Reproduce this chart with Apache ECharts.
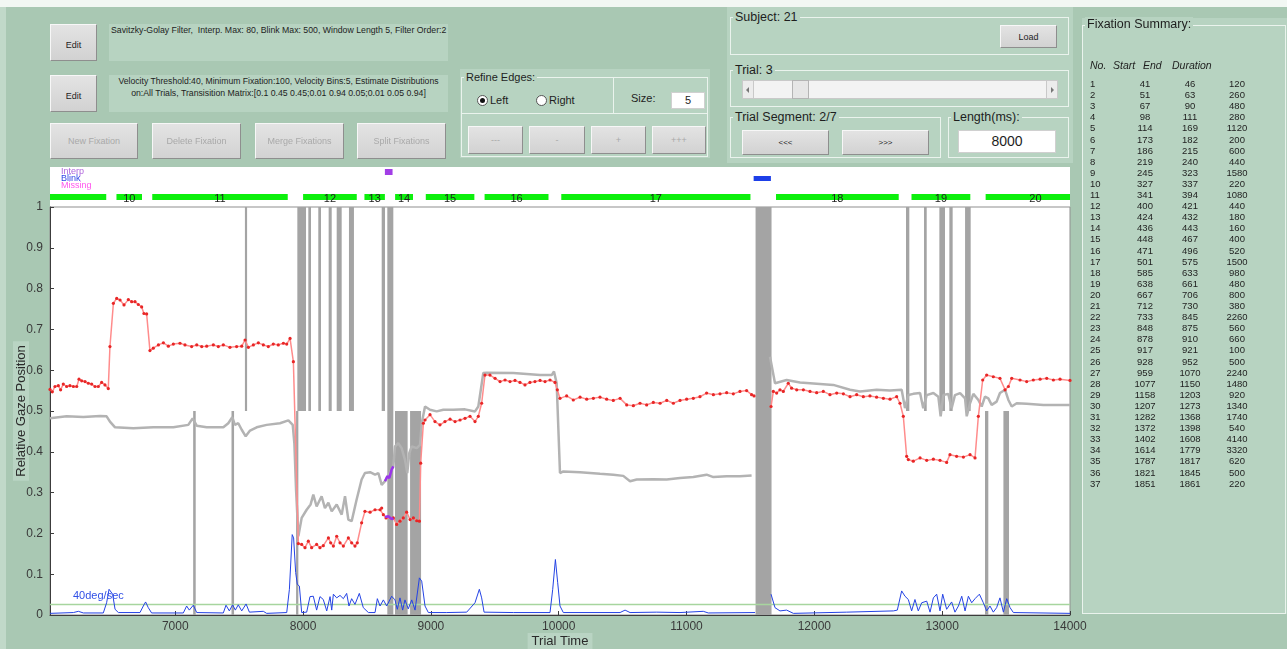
<!DOCTYPE html>
<html>
<head>
<meta charset="utf-8">
<title>Fixation editor</title>
<script src="https://cdn.jsdelivr.net/npm/echarts@6.0.0/dist/echarts.min.js"></script>
<style>
html,body{margin:0;padding:0}
body{width:1287px;height:649px;background:#a9c8b3;position:relative;overflow:hidden;font-family:"Liberation Sans",Arial,sans-serif;color:#1e1e1e}
#chart{position:absolute;left:0;top:0;width:1287px;height:649px}
.a{position:absolute;box-sizing:border-box;white-space:nowrap}
.btn{background:linear-gradient(#e3e3e3,#d2d2d2);border:1px solid;border-color:#f7f7f7 #8e8e8e #8e8e8e #f7f7f7;font-size:9px;display:flex;align-items:center;justify-content:center;color:#1e1e1e}
.off{color:#a9a9a9}
.fill{background:#b7d3c1}
.frame{border:1px solid #eaf3ed}
.ttl{background:#b7d3c1;padding:0 2px;line-height:14px;color:#1e1e1e}
.radio{width:11px;height:11px;border-radius:50%;border:1px solid #555;background:#fff}
.dot{position:absolute;left:2px;top:2px;width:5px;height:5px;border-radius:50%;background:#111}
.hdr{font-style:italic;font-size:10.5px;color:#1e1e1e}
.row{font-size:9.5px;color:#1e1e1e;line-height:11px}
</style>
</head>
<body>
<div id="chart"></div>

<div class="a" style="left:0;top:0;width:1287px;height:7px;background:#f2f7f3"></div>
<div class="a" style="left:0;top:7px;width:6px;height:642px;background:#c1d9c9"></div>

<!-- filter settings -->
<div class="a btn" style="left:50px;top:24px;width:47px;height:37px;padding-top:5px">Edit</div>
<div class="a fill" style="left:109px;top:24px;width:339px;height:37px"></div>
<div class="a" data-w="336" style="left:111px;top:25px;font-size:9px;line-height:11px"><span>Savitzky-Golay Filter,&nbsp; Interp. Max: 80, Blink Max: 500, Window Length 5, Filter Order:2</span></div>

<!-- classifier settings -->
<div class="a btn" style="left:50px;top:75px;width:47px;height:37px;padding-top:5px">Edit</div>
<div class="a fill" style="left:109px;top:75px;width:339px;height:37px"></div>
<div class="a" data-w="320" style="left:109px;width:339px;top:76px;text-align:center;font-size:9px;line-height:11px"><span>Velocity Threshold:40, Minimum Fixation:100, Velocity Bins:5, Estimate Distributions</span></div>
<div class="a" data-w="295" style="left:109px;width:339px;top:88px;text-align:center;font-size:9px;line-height:11px"><span>on:All Trials, Transisition Matrix:[0.1 0.45 0.45;0.01 0.94 0.05;0.01 0.05 0.94]</span></div>

<div class="a btn off" style="left:50px;top:123px;width:88px;height:36px">New Fixation</div>
<div class="a btn off" style="left:152px;top:123px;width:89px;height:36px">Delete Fixation</div>
<div class="a btn off" style="left:255px;top:123px;width:89px;height:36px">Merge Fixations</div>
<div class="a btn off" style="left:357px;top:123px;width:89px;height:36px">Split Fixations</div>

<!-- refine edges -->
<div class="a fill" style="left:460px;top:69px;width:250px;height:89px"></div>
<div class="a frame" style="left:461px;top:77px;width:153px;height:37px"></div>
<div class="a frame" style="left:613px;top:77px;width:95px;height:37px"></div>
<div class="a frame" style="left:461px;top:113px;width:247px;height:44px"></div>
<div class="a ttl" style="left:464px;top:70px;font-size:11px">Refine Edges:</div>
<div class="a radio" style="left:477px;top:95px"><div class="dot"></div></div>
<div class="a" style="left:490px;top:94px;font-size:11px;line-height:13px">Left</div>
<div class="a radio" style="left:536px;top:95px"></div>
<div class="a" style="left:549px;top:94px;font-size:11px;line-height:13px">Right</div>
<div class="a" style="left:631px;top:92px;font-size:11px;line-height:13px">Size:</div>
<div class="a" style="left:671px;top:92px;width:34px;height:17px;background:#fff;border:1px solid #d0d0d0;font-size:11px;line-height:15px;text-align:center">5</div>
<div class="a btn off" style="left:468px;top:126px;width:55px;height:28px">---</div>
<div class="a btn off" style="left:529px;top:126px;width:56px;height:28px">-</div>
<div class="a btn off" style="left:591px;top:126px;width:55px;height:28px">+</div>
<div class="a btn off" style="left:652px;top:126px;width:54px;height:28px">+++</div>

<!-- subject / trial navigation -->
<div class="a fill" style="left:727px;top:7px;width:346px;height:156px"></div>
<div class="a frame" style="left:730px;top:17px;width:339px;height:38px"></div>
<div class="a ttl" style="left:733px;top:10px;font-size:12.5px">Subject: 21</div>
<div class="a btn" style="left:1000px;top:25px;width:57px;height:23px">Load</div>
<div class="a frame" style="left:730px;top:70px;width:339px;height:37px"></div>
<div class="a ttl" style="left:733px;top:63px;font-size:12.5px">Trial: 3</div>
<div class="a" style="left:742px;top:80px;width:316px;height:19px;background:#f3f3f3;border:1px solid #c9c9c9"></div>
<div class="a" style="left:742px;top:80px;width:12px;height:19px;background:#ececec;border:1px solid #c9c9c9"></div>
<div class="a" style="left:746px;top:87px;width:0;height:0;border-top:3px solid transparent;border-bottom:3px solid transparent;border-right:3px solid #777"></div>
<div class="a" style="left:1046px;top:80px;width:12px;height:19px;background:#ececec;border:1px solid #c9c9c9"></div>
<div class="a" style="left:1051px;top:87px;width:0;height:0;border-top:3px solid transparent;border-bottom:3px solid transparent;border-left:3px solid #777"></div>
<div class="a" style="left:792px;top:80px;width:17px;height:19px;background:#e6e6e6;border:1px solid #b4b4b4"></div>
<div class="a frame" style="left:730px;top:117px;width:211px;height:41px"></div>
<div class="a ttl" style="left:733px;top:110px;font-size:12.5px">Trial Segment: 2/7</div>
<div class="a btn" style="left:742px;top:130px;width:87px;height:25px;font-size:8px">&lt;&lt;&lt;</div>
<div class="a btn" style="left:842px;top:130px;width:87px;height:25px;font-size:8px">&gt;&gt;&gt;</div>
<div class="a frame" style="left:948px;top:117px;width:121px;height:41px"></div>
<div class="a ttl" style="left:951px;top:110px;font-size:12.5px">Length(ms):</div>
<div class="a" style="left:958px;top:130px;width:98px;height:23px;background:#fff;border:1px solid #d0d0d0;font-size:14px;line-height:21px;text-align:center">8000</div>

<!-- fixation summary -->
<div class="a fill" style="left:1082px;top:18px;width:205px;height:596px"></div>
<div class="a frame" style="left:1082px;top:25px;width:204px;height:589px"></div>
<div class="a ttl" style="left:1085px;top:17px;font-size:12.5px">Fixation Summary:</div>
<div class="a hdr" style="left:1090px;top:59px">No.</div>
<div class="a hdr" style="left:1113px;top:59px">Start</div>
<div class="a hdr" style="left:1143px;top:59px">End</div>
<div class="a hdr" style="left:1172px;top:59px">Duration</div>
<div id="rows"></div>

<script>
// ---- fixation table (sample indices, 20 ms per sample) ----
const fixStart = [41,51,67,98,114,173,186,219,245,327,341,400,424,436,448,471,501,585,638,667,712,733,848,878,917,928,959,1077,1158,1207,1282,1372,1402,1614,1787,1821,1851];
const fixEnd   = [46,63,90,111,169,182,215,240,323,337,394,421,432,443,467,496,575,633,661,706,730,845,875,910,921,952,1070,1150,1203,1273,1368,1398,1608,1779,1817,1845,1861];
const fixDur   = [120,260,480,280,1120,200,600,440,1580,220,1080,440,180,160,400,520,1500,980,480,800,380,2260,560,660,100,500,2240,1480,920,1340,1740,540,4140,3320,620,500,220];
const SAMPLE_MS = 20;

// ---- trial segment window (ms) and tick labels ----
const X_MIN = 6020, X_MAX = 14000;
const xTickValues = [7000, 8000, 9000, 10000, 11000, 12000, 13000, 14000];

// ---- horizontal gaze position (points and smoothed trace), before/after the blink ----
const gazePre = [[6020,.553],[6038,.547],[6059,.560],[6085,.562],[6103,.552],[6124,.566],[6150,.560],[6176,.562],[6203,.560],[6229,.560],[6247,.578],[6268,.574],[6294,.572],[6320,.568],[6346,.566],[6372,.560],[6398,.560],[6424,.570],[6450,.564],[6476,.555],[6489,.658],[6516,.764],[6542,.776],[6568,.772],[6599,.760],[6633,.773],[6659,.768],[6685,.768],[6711,.761],[6737,.755],[6755,.739],[6776,.738],[6802,.648],[6828,.654],[6868,.662],[6907,.667],[6946,.659],[6985,.664],[7037,.666],[7076,.662],[7128,.658],[7168,.662],[7207,.658],[7246,.659],[7298,.662],[7337,.658],[7376,.662],[7428,.656],[7480,.658],[7520,.659],[7546,.674],[7572,.656],[7611,.662],[7650,.667],[7689,.662],[7728,.658],[7767,.664],[7806,.662],[7846,.666],[7872,.664],[7898,.678],[7924,.621],[7963,.175],[7989,.173],[8015,.165],[8041,.181],[8067,.165],[8106,.173],[8132,.165],[8158,.170],[8198,.189],[8216,.177],[8237,.169],[8263,.193],[8289,.177],[8315,.169],[8354,.189],[8380,.177],[8406,.169],[8424,.177],[8458,.226],[8484,.254],[8524,.252],[8563,.258],[8602,.258],[8615,.262],[8628,.246],[8649,.238],[8706,.238],[8732,.222],[8758,.230],[8784,.238],[8810,.252],[8837,.234],[8863,.238],[8889,.231],[8910,.230],[8920,.372],[8941,.470],[8954,.478],[8993,.491],[9032,.474],[9071,.466],[9110,.474],[9150,.480],[9189,.474],[9228,.478],[9267,.482],[9306,.487],[9345,.474],[9371,.487],[9397,.519],[9423,.588],[9462,.588],[9502,.580],[9541,.572],[9580,.576],[9619,.572],[9658,.575],[9697,.570],[9736,.564],[9775,.570],[9814,.572],[9854,.575],[9893,.572],[9932,.576],[9971,.570],[9989,.552],[10010,.531],[10062,.537],[10114,.527],[10167,.534],[10219,.529],[10271,.531],[10323,.534],[10375,.529],[10427,.526],[10480,.531],[10532,.515],[10584,.513],[10636,.519],[10688,.515],[10740,.521],[10793,.519],[10845,.526],[10897,.519],[10949,.526],[11001,.529],[11053,.531],[11105,.535],[11157,.544],[11210,.540],[11262,.542],[11314,.545],[11366,.542],[11418,.548],[11470,.550],[11509,.540],[11528,.537]];
const gazePost = [[11661,.511],[11679,.548],[11705,.544],[11731,.552],[11757,.548],[11796,.568],[11822,.556],[11862,.552],[11914,.552],[11966,.548],[12018,.545],[12070,.548],[12122,.540],[12175,.544],[12227,.542],[12279,.535],[12331,.540],[12383,.535],[12435,.537],[12487,.534],[12540,.531],[12592,.529],[12644,.535],[12670,.519],[12696,.487],[12722,.389],[12735,.381],[12774,.377],[12827,.385],[12879,.379],[12931,.382],[12983,.379],[13035,.374],[13061,.393],[13113,.389],[13166,.387],[13218,.393],[13257,.385],[13283,.487],[13317,.576],[13348,.588],[13400,.584],[13452,.580],[13492,.552],[13518,.560],[13544,.580],[13609,.576],[13661,.572],[13713,.576],[13766,.578],[13818,.580],[13870,.576],[13922,.578],[14000,.575]];

// ---- vertical gaze position ----
const vertPre = [[6020,.482],[6150,.487],[6281,.485],[6411,.488],[6463,.487],[6489,.474],[6529,.460],[6672,.458],[6828,.460],[6985,.460],[7102,.466],[7136,.482],[7168,.464],[7246,.460],[7376,.460],[7415,.470],[7446,.485],[7467,.466],[7493,.470],[7520,.454],[7551,.438],[7585,.452],[7637,.460],[7715,.466],[7819,.470],[7885,.477],[7919,.466],[7932,.420],[7945,.307],[7963,.193],[7989,.238],[8028,.258],[8059,.271],[8080,.295],[8106,.266],[8145,.291],[8171,.262],[8198,.275],[8224,.254],[8263,.271],[8302,.246],[8328,.291],[8354,.234],[8380,.230],[8419,.283],[8458,.332],[8484,.348],[8524,.350],[8563,.344],[8589,.348],[8615,.319],[8641,.328],[8706,.364],[8719,.413],[8745,.421],[8771,.409],[8797,.381],[8815,.348],[8831,.397],[8850,.413],[8889,.409],[8915,.417],[8928,.470],[8954,.511],[8993,.503],[9045,.499],[9097,.503],[9176,.503],[9267,.504],[9345,.499],[9371,.511],[9410,.593],[9436,.594],[9645,.593],[9854,.588],[9945,.588],[9963,.597],[9984,.568],[10010,.348],[10036,.352],[10167,.350],[10323,.346],[10427,.344],[10505,.341],[10558,.328],[10610,.332],[10740,.333],[10845,.332],[10949,.336],[11053,.338],[11157,.344],[11210,.338],[11314,.340],[11418,.340],[11509,.342]];
const vertPost = [[11653,.633],[11692,.568],[11783,.576],[11888,.570],[12018,.567],[12148,.564],[12279,.552],[12357,.548],[12487,.552],[12592,.550],[12683,.552],[12709,.507],[12735,.539],[12774,.542],[12827,.544],[12852,.507],[12879,.539],[12931,.544],[12970,.535],[12988,.487],[13009,.539],[13048,.542],[13074,.507],[13100,.539],[13140,.544],[13179,.531],[13192,.487],[13218,.519],[13244,.542],[13283,.527],[13309,.511],[13335,.535],[13361,.531],[13387,.515],[13426,.523],[13452,.544],[13492,.552],[13518,.527],[13544,.511],[13583,.519],[13661,.518],[13792,.515],[14000,.515]];

// ---- interpolated stretches ----
const interpVert = [[8641,.328],[8659,.340],[8675,.336],[8693,.357],[8706,.364]];
const interpGaze = [[8641,.240],[8667,.242],[8693,.235],[8706,.238]];

// ---- scaled velocity and its threshold (40 deg/sec) ----
const velPre = [[6020,.004],[6203,.006],[6242,.009],[6281,.005],[6437,.005],[6463,.030],[6482,.063],[6495,.067],[6510,.051],[6529,.014],[6555,.006],[6724,.006],[6750,.022],[6768,.032],[6789,.018],[6815,.005],[7063,.005],[7089,.022],[7110,.012],[7141,.024],[7168,.006],[7376,.005],[7397,.024],[7423,.010],[7449,.025],[7470,.012],[7493,.025],[7520,.010],[7554,.027],[7580,.007],[7689,.009],[7715,.004],[7872,.006],[7893,.063],[7915,.197],[7926,.189],[7942,.104],[7955,.075],[7971,.071],[7989,.006],[8028,.007],[8054,.045],[8080,.046],[8106,.012],[8132,.045],[8158,.038],[8185,.010],[8211,.045],[8224,.012],[8237,.051],[8263,.042],[8289,.048],[8315,.040],[8341,.053],[8359,.022],[8380,.040],[8406,.026],[8440,.053],[8471,.018],[8511,.006],[8563,.006],[8581,.040],[8602,.022],[8628,.037],[8654,.022],[8693,.046],[8719,.037],[8737,.014],[8758,.042],[8779,.012],[8797,.037],[8823,.015],[8850,.037],[8876,.012],[8910,.091],[8928,.083],[8954,.022],[8980,.006],[9124,.006],[9280,.007],[9345,.030],[9379,.063],[9397,.042],[9416,.007],[9645,.006],[9932,.006],[9953,.063],[9974,.136],[9992,.079],[10010,.022],[10036,.006],[10480,.006],[10519,.012],[10558,.006],[10767,.007],[10949,.006],[11131,.009],[11170,.005],[11536,.006]];
const velPost = [[11661,.051],[11692,.018],[11731,.010],[11783,.012],[11836,.004],[12253,.007],[12618,.010],[12649,.012],[12683,.059],[12709,.046],[12735,.038],[12761,.010],[12787,.038],[12813,.010],[12840,.030],[12879,.034],[12905,.007],[12931,.042],[12957,.051],[12983,.010],[13004,.051],[13035,.014],[13074,.032],[13100,.007],[13127,.022],[13153,.046],[13179,.010],[13205,.046],[13231,.030],[13257,.040],[13291,.051],[13322,.030],[13348,.010],[13374,.022],[13400,.007],[13426,.018],[13452,.042],[13479,.007],[13505,.040],[13531,.018],[13557,.006],[14000,.004]];
const velThreshold = 0.026;

// ---- missing-data spans [start, end] (ms): upper half, lower half, full height ----
const missUpper = [[7545,7562],[7955,8023],[8041,8062],[8119,8140],[8200,8224],[8263,8302],[8359,8398],[8615,8641],[12717,12743],[12858,12879],[12978,13022],[13056,13082],[13179,13223]];
const missLower = [[7140,7160],[7440,7460],[7945,7963],[8719,8818],[8837,8923],[13335,13361],[13479,13523]];
const missFull  = [[8659,8706],[11540,11665]];

// ---- event markers on the top strip ----
const interpSpans = [[8640,8700]];
const blinkSpans  = [[11525,11660]];

// ---------- fixation summary table ----------
(function () {
  const host = document.getElementById('rows');
  let html = '';
  for (let i = 0; i < fixStart.length; i++) {
    const y = 78 + i * 11.1;
    html += '<div class="a row" style="left:1090px;top:' + y + 'px">' + (i + 1) + '</div>' +
            '<div class="a row" style="left:1115px;width:60px;text-align:center;top:' + y + 'px">' + fixStart[i] + '</div>' +
            '<div class="a row" style="left:1160px;width:60px;text-align:center;top:' + y + 'px">' + fixEnd[i] + '</div>' +
            '<div class="a row" style="left:1207px;width:60px;text-align:center;top:' + y + 'px">' + fixDur[i] + '</div>';
  }
  host.innerHTML = html;
})();

// shrink the settings strings so each fits its box
document.querySelectorAll('[data-w]').forEach(function (el) {
  const span = el.querySelector('span');
  const w = span.getBoundingClientRect().width;
  const fs = parseFloat(getComputedStyle(el).fontSize);
  el.style.fontSize = (fs * (+el.dataset.w) / w) + 'px';
});

// ---------- chart ----------
const FONT = '"Liberation Sans", Arial, sans-serif';
const STRIP = { interp: [2, 8], blink: [9, 14], fixBar: [27, 33], fixLabel: 32 };
const C = {
  gaze: '#ff8c8c', gazeDot: '#e82626', vert: '#b3b3b3', vel: '#2443e4',
  interp: '#9a34ea', thr: '#a7d59e', miss: '#a4a4a4', fix: '#0df00d', blink: '#1d3fe8'
};

function clipToGrid(x0, y0, x1, y1, cs) {
  return echarts.graphic.clipRectByRect(
    { x: Math.min(x0, x1), y: Math.min(y0, y1), width: Math.abs(x1 - x0), height: Math.abs(y1 - y0) },
    { x: cs.x, y: cs.y, width: cs.width, height: cs.height });
}

// spans with a fixed vertical band in axis units
function bandSeries(name, spans, lo, hi, color, xi, yi, z) {
  return {
    name: name, type: 'custom', xAxisIndex: xi, yAxisIndex: yi, z: z, silent: true,
    data: spans,
    renderItem: function (params, api) {
      const a = api.coord([api.value(0), lo]);
      const b = api.coord([api.value(1), hi]);
      const r = clipToGrid(a[0], a[1], b[0], b[1], params.coordSys);
      return r && { type: 'rect', shape: r, style: { fill: color } };
    }
  };
}

function lineSeries(name, data, color, width, z, dots) {
  return {
    name: name, type: 'line', xAxisIndex: 1, yAxisIndex: 1, z: z, data: data,
    showSymbol: !!dots, symbol: 'circle', symbolSize: 3.2,
    itemStyle: { color: dots || color },
    lineStyle: { color: color, width: width },
    silent: true, clip: true
  };
}

// fixations that fall inside the segment window, in ms
const fixInView = [];
fixStart.forEach(function (s, i) {
  const t0 = s * SAMPLE_MS, t1 = fixEnd[i] * SAMPLE_MS;
  if (t1 > X_MIN && t0 < X_MAX) fixInView.push([t0, t1, i + 1]);
});

const nameStyle = { fontFamily: FONT, fontSize: 13, color: '#2a2a2a', backgroundColor: '#b9d4c3', padding: [2, 4, 1, 4] };

const chart = echarts.init(document.getElementById('chart'), null, { renderer: 'canvas' });
chart.setOption({
  animation: false,
  backgroundColor: 'transparent',
  grid: [
    { left: 50, top: 167, width: 1020, height: 40, show: true, backgroundColor: '#ffffff', borderWidth: 0, outerBoundsMode: 'none' },
    { left: 50, top: 207, width: 1020, height: 408, show: true, backgroundColor: '#ffffff', borderColor: '#8f8f8f', borderWidth: 1, outerBoundsMode: 'none' }
  ],
  xAxis: [
    { gridIndex: 0, type: 'value', min: X_MIN, max: X_MAX, show: false },
    {
      gridIndex: 1, type: 'value', min: X_MIN, max: X_MAX,
      name: 'Trial Time', nameLocation: 'middle', nameGap: 18, nameMoveOverlap: false,
      nameTextStyle: nameStyle,
      axisLine: { show: true, onZero: false, lineStyle: { color: '#3c3c3c', width: 1 } },
      axisTick: { show: true, inside: true, length: 4, customValues: xTickValues, lineStyle: { color: '#3c3c3c' } },
      axisLabel: { customValues: xTickValues, margin: 6, fontFamily: FONT, fontSize: 12, color: '#3a3a3a',
        formatter: function (v) { return String(v); } },
      splitLine: { show: false }
    }
  ],
  yAxis: [
    { gridIndex: 0, type: 'value', min: 0, max: 40, inverse: true, show: false },
    {
      gridIndex: 1, type: 'value', min: 0, max: 1, interval: 0.1,
      name: 'Relative Gaze Position', nameLocation: 'middle', nameGap: 21, nameRotate: 90, nameMoveOverlap: false,
      nameTextStyle: nameStyle,
      axisLine: { show: true, onZero: false, lineStyle: { color: '#3c3c3c', width: 1 } },
      axisTick: { show: true, inside: true, length: 4, lineStyle: { color: '#3c3c3c' } },
      axisLabel: { margin: 7, fontFamily: FONT, fontSize: 12, color: '#3a3a3a',
        formatter: function (v) { return String(Math.round(v * 10) / 10); } },
      splitLine: { show: false }
    }
  ],
  graphic: [
    { type: 'text', left: 61, top: 167, z: 10, style: { text: 'Interp', font: '9px ' + FONT, fill: '#b067dc' } },
    { type: 'text', left: 61, top: 174, z: 10, style: { text: 'Blink', font: '9px ' + FONT, fill: '#2f44e6' } },
    { type: 'text', left: 61, top: 181, z: 10, style: { text: 'Missing', font: '9px ' + FONT, fill: '#ff55ee' } },
    { type: 'text', left: 73, top: 590, z: 10, style: { text: '40deg/sec', font: '11px ' + FONT, fill: '#3150e6' } }
  ],
  series: [
    // top strip: fixations, interpolation and blink markers
    {
      name: 'Fixations', type: 'custom', xAxisIndex: 0, yAxisIndex: 0, z: 3, silent: true,
      data: fixInView,
      renderItem: function (params, api) {
        const t0 = api.value(0), t1 = api.value(1), no = api.value(2);
        const a = api.coord([t0, STRIP.fixBar[0]]);
        const b = api.coord([t1, STRIP.fixBar[1]]);
        const children = [];
        const r = clipToGrid(a[0], a[1], b[0], b[1], params.coordSys);
        if (r) children.push({ type: 'rect', shape: r, style: { fill: C.fix } });
        const mid = (t0 + t1) / 2;
        if (mid >= X_MIN && mid <= X_MAX) {
          const c = api.coord([mid, STRIP.fixLabel]);
          children.push({ type: 'text', z2: 5, style: { text: String(no), x: c[0], y: c[1], align: 'center', verticalAlign: 'middle', font: '11px ' + FONT, fill: '#222' } });
        }
        return { type: 'group', children: children };
      }
    },
    bandSeries('Interp', interpSpans, STRIP.interp[0], STRIP.interp[1], '#a23ee6', 0, 0, 3),
    bandSeries('Blink', blinkSpans, STRIP.blink[0], STRIP.blink[1], C.blink, 0, 0, 3),

    // main axes: missing-data spans
    bandSeries('Missing upper', missUpper, 0.5, 1, C.miss, 1, 1, 1),
    bandSeries('Missing lower', missLower, 0, 0.5, C.miss, 1, 1, 1),
    bandSeries('Missing full', missFull, 0, 1, C.miss, 1, 1, 1),

    // threshold and traces
    lineSeries('Threshold', [[X_MIN, velThreshold], [X_MAX, velThreshold]], C.thr, 1.5, 2),
    lineSeries('Vertical', vertPre, C.vert, 2.5, 3),
    lineSeries('Vertical ', vertPost, C.vert, 2.5, 3),
    lineSeries('Velocity', velPre, C.vel, 1, 4),
    lineSeries('Velocity ', velPost, C.vel, 1, 4),
    lineSeries('Horizontal', gazePre, C.gaze, 1.5, 5, C.gazeDot),
    lineSeries('Horizontal ', gazePost, C.gaze, 1.5, 5, C.gazeDot),
    lineSeries('Interpolated', interpVert, C.interp, 2.5, 6),
    lineSeries('Interpolated ', interpGaze, C.interp, 2.5, 6)
  ]
});
</script>
</body>
</html>
